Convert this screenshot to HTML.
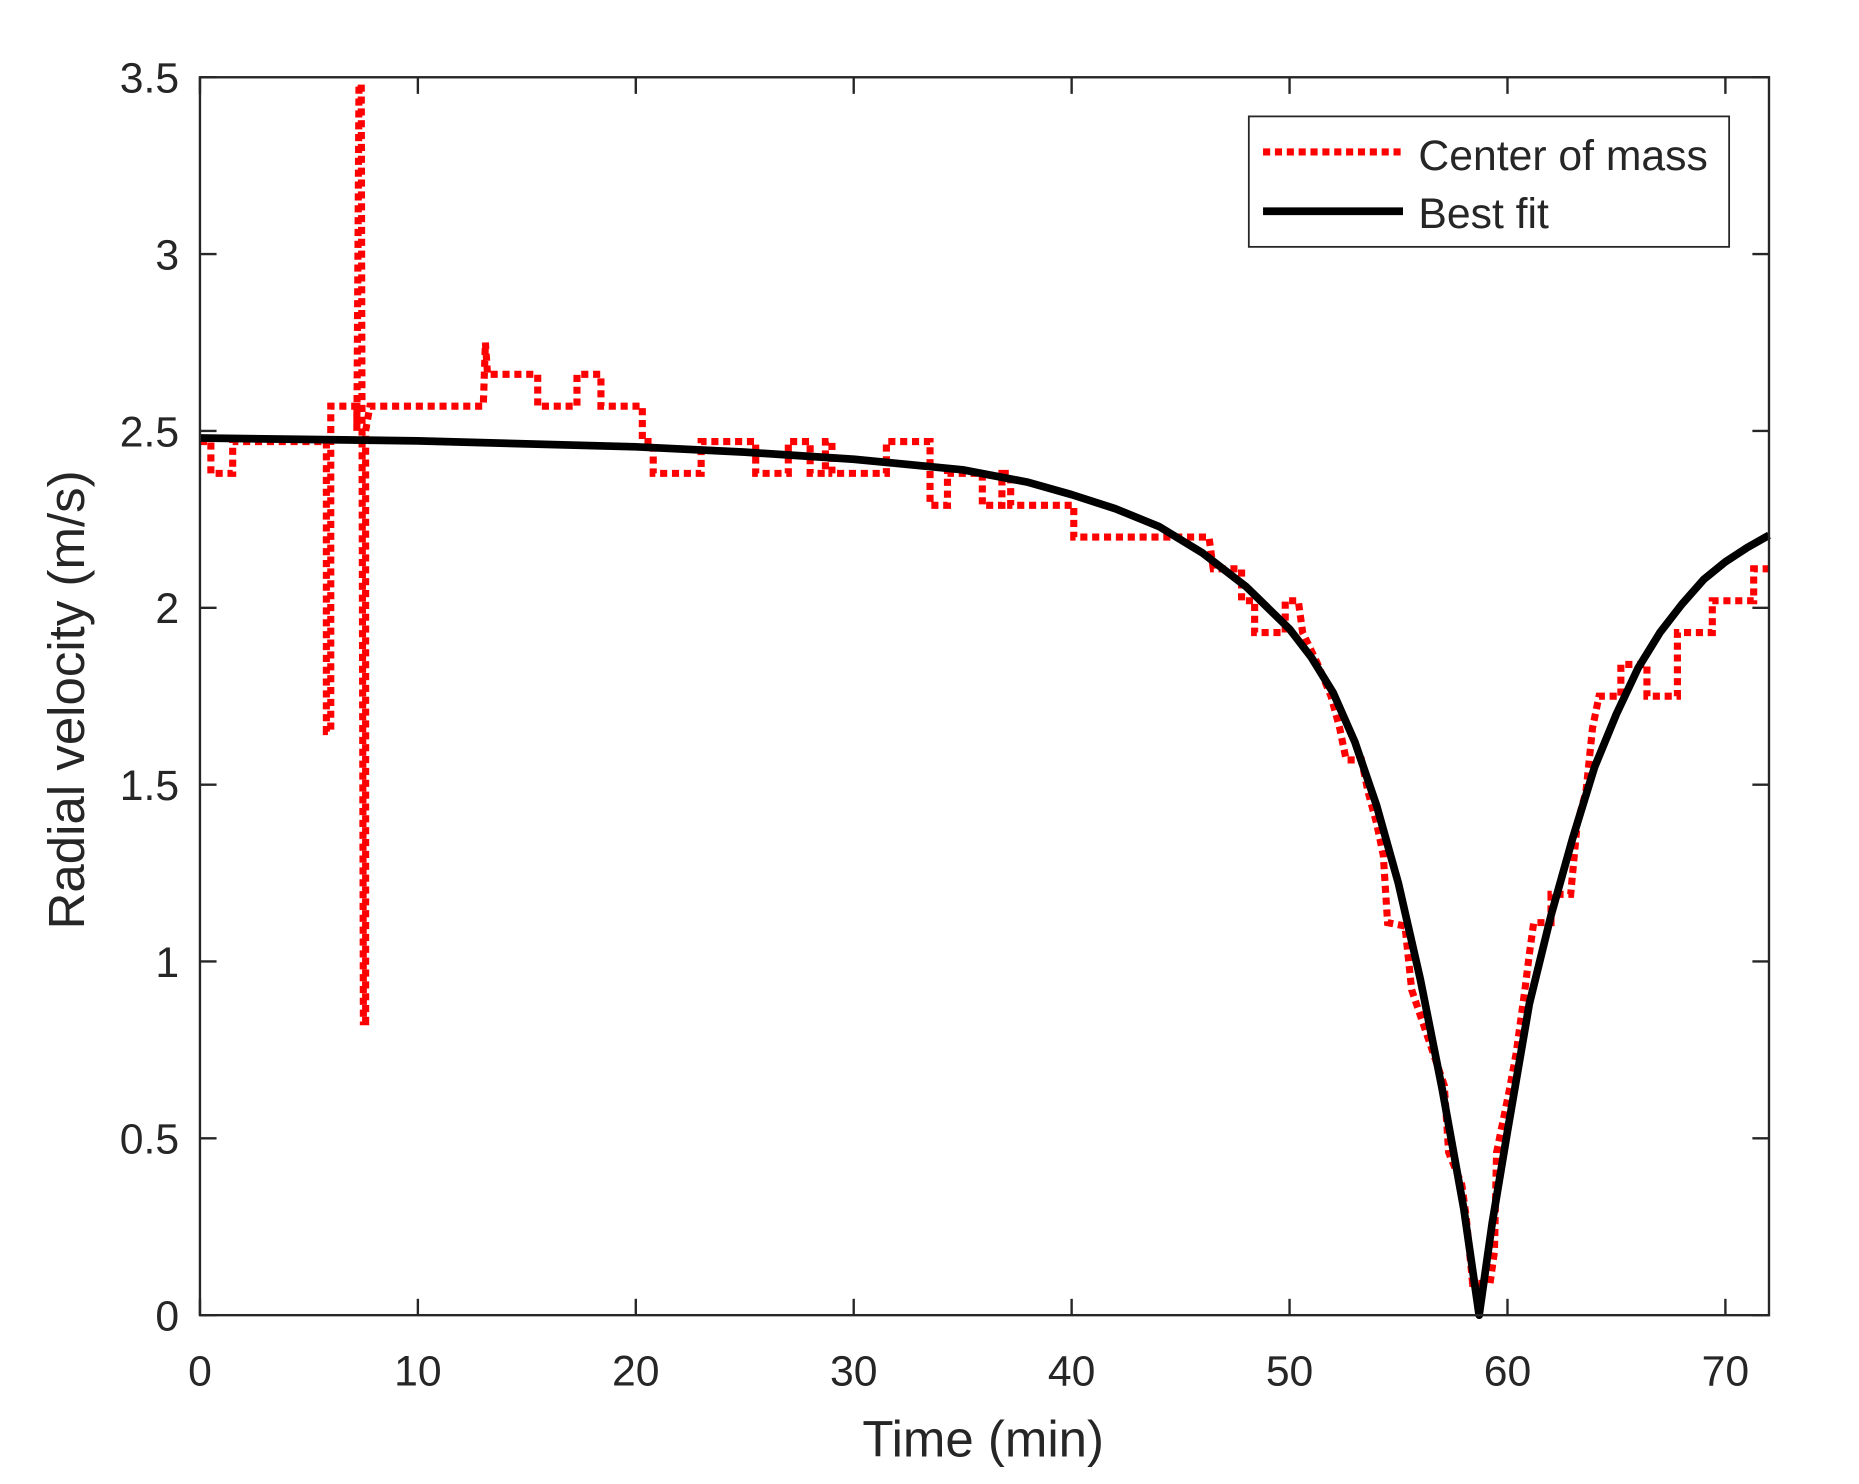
<!DOCTYPE html>
<html><head><meta charset="utf-8"><style>
html,body{margin:0;padding:0;background:#fff;}
svg{display:block;}
text{font-family:"Liberation Sans",Arial,sans-serif;fill:#262626;}
</style></head><body>
<svg id="s" width="1859" height="1484" viewBox="0 0 1567.5 1251" xmlns="http://www.w3.org/2000/svg">
<rect width="1567.5" height="1251" fill="#fff"/>
<g id="ticks" stroke="#262626" stroke-width="2"></g>
<g id="labels" font-size="36" fill="#262626"></g>
<path id="red" fill="none" stroke="#ff0000" stroke-width="6" stroke-dasharray="6,4"/>
<path id="blk" fill="none" stroke="#000" stroke-width="6.5" stroke-linejoin="round"/>
<rect x="168.6" y="65" width="1323" height="1043.8" fill="none" stroke="#262626" stroke-width="2"/>
<text x="829" y="1228" font-size="43" text-anchor="middle">Time (min)</text>
<text transform="translate(71,590) rotate(-90)" font-size="43" text-anchor="middle">Radial velocity (m/s)</text>
<rect x="1053" y="98" width="405" height="110" fill="#fff" stroke="#262626" stroke-width="1.5"/>
<line x1="1065" y1="128" x2="1183" y2="128" stroke="#ff0000" stroke-width="6" stroke-dasharray="6,4"/>
<line x1="1065" y1="178" x2="1183" y2="178" stroke="#000" stroke-width="6.5"/>
<text x="1196" y="143" font-size="36" fill="#000">Center of mass</text>
<text x="1196" y="192" font-size="36" fill="#000">Best fit</text>
</svg>
<script>
var X=function(t){return 168.6+t*1323/72;},Y=function(v){return 1108.8-v*298.23;};
var tk=document.getElementById('ticks'),lb=document.getElementById('labels'),ns='http://www.w3.org/2000/svg';
function el(p,n,a,txt){var e=document.createElementNS(ns,n);for(var k in a)e.setAttribute(k,a[k]);if(txt!=null)e.textContent=txt;p.appendChild(e);}
for(var t=0;t<=70;t+=10){var x=X(t);el(tk,'line',{x1:x,y1:1108.8,x2:x,y2:1095});el(tk,'line',{x1:x,y1:65,x2:x,y2:79});
el(lb,'text',{x:x,y:1168,'text-anchor':'middle'},String(t));}
for(var i=0;i<=7;i++){var v=i*0.5,y=Y(v);el(tk,'line',{x1:168.6,y1:y,x2:182.6,y2:y});el(tk,'line',{x1:1491.6,y1:y,x2:1477.6,y2:y});
el(lb,'text',{x:151,y:y+13,'text-anchor':'end'},String(v));}
var r=[[0,2.47],[0.5,2.47],[0.5,2.38],[1.5,2.38],[1.5,2.47],[5.8,2.47],[5.8,1.65],[6,1.65],[6,2.57],[7.2,2.57],[7.2,2.5],[7.3,3.48],[7.4,3.48],[7.5,0.83],[7.6,0.83],[7.6,2.5],[7.8,2.57],[13,2.57],[13.1,2.75],[13.2,2.66],[15.5,2.66],[15.5,2.57],[17.3,2.57],[17.3,2.66],[18.4,2.66],[18.4,2.57],[20.3,2.57],[20.3,2.47],[20.8,2.47],[20.8,2.38],[23,2.38],[23,2.47],[25.5,2.47],[25.5,2.38],[27,2.38],[27,2.47],[28,2.47],[28,2.38],[28.7,2.38],[28.7,2.47],[29,2.47],[29,2.38],[31.5,2.38],[31.5,2.47],[33.5,2.47],[33.5,2.29],[34.3,2.29],[34.3,2.38],[35.9,2.38],[35.9,2.29],[36.8,2.29],[36.8,2.38],[37.2,2.38],[37.2,2.29],[40.1,2.29],[40.1,2.2],[46.3,2.2],[46.5,2.11],[47.8,2.11],[47.8,2.02],[48.4,2.02],[48.4,1.93],[49.8,1.93],[49.8,2.02],[50.4,2.02],[50.6,1.93],[51.3,1.84],[51.9,1.75],[52.3,1.66],[52.6,1.57],[53.3,1.57],[53.6,1.48],[54,1.39],[54.3,1.3],[54.5,1.11],[55.3,1.1],[55.6,0.92],[56.1,0.83],[56.6,0.74],[57.1,0.65],[57.3,0.46],[57.9,0.37],[58.1,0.28],[58.4,0.09],[58.9,0.09],[59.2,0.09],[59.4,0.18],[59.5,0.46],[59.8,0.55],[60.1,0.64],[60.4,0.74],[60.8,0.92],[61,1.02],[61.2,1.11],[62,1.11],[62,1.19],[62.9,1.19],[63.2,1.39],[63.6,1.48],[63.9,1.66],[64.2,1.75],[65.2,1.75],[65.2,1.84],[66.4,1.84],[66.4,1.75],[67.8,1.75],[67.8,1.93],[69.4,1.93],[69.4,2.02],[71.3,2.02],[71.3,2.11],[72,2.11]];
var b=[[0,2.48],[10,2.472],[20,2.455],[25,2.44],[30,2.42],[35,2.39],[38,2.355],[40,2.32],[42,2.28],[44,2.23],[46,2.155],[48,2.06],[50,1.94],[51,1.86],[52,1.76],[53,1.62],[54,1.44],[55,1.22],[56,0.95],[57,0.64],[58,0.3],[58.7,0],[59.3,0.26],[60,0.52],[61,0.88],[62,1.13],[63,1.35],[64,1.55],[65,1.7],[66,1.83],[67,1.93],[68,2.01],[69,2.08],[70,2.13],[71,2.17],[72,2.205]];
function P(a){return a.map(function(p,i){return (i?'L':'M')+X(p[0]).toFixed(1)+' '+Y(p[1]).toFixed(1);}).join(' ');}
document.getElementById('red').setAttribute('d',P(r));
document.getElementById('blk').setAttribute('d',P(b));
</script>
</body></html>
